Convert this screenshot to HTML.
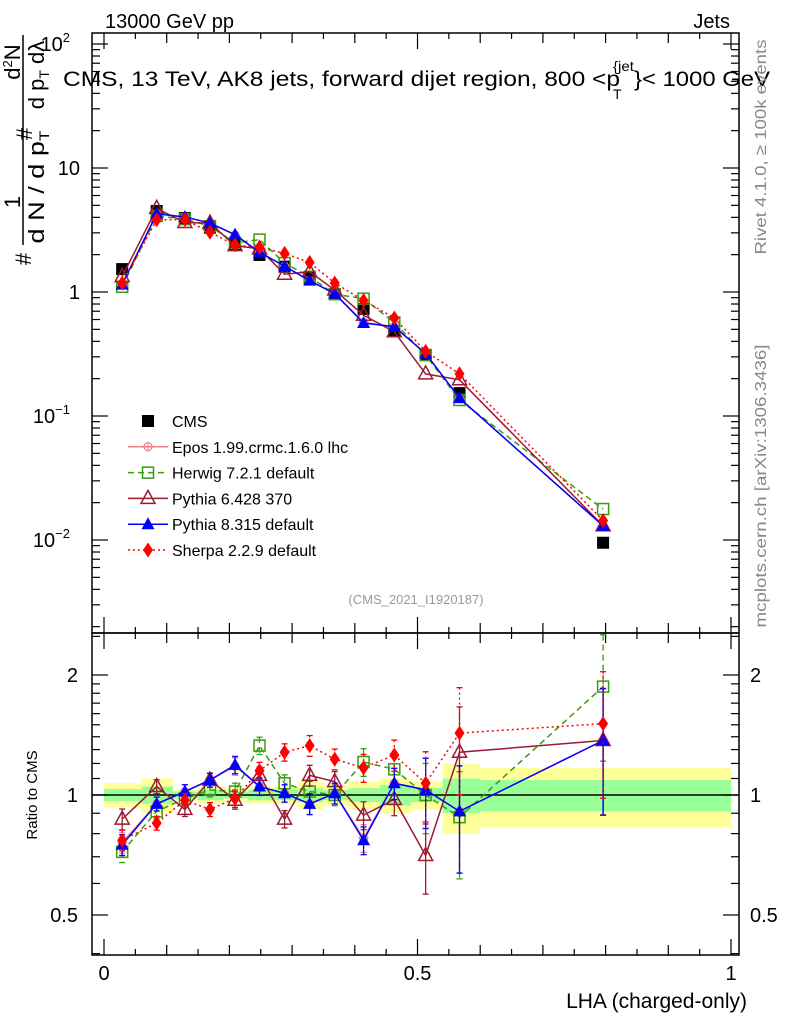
<!DOCTYPE html>
<html><head><meta charset="utf-8"><style>
html,body{margin:0;padding:0;background:#fff;}
svg{display:block;font-family:"Liberation Sans",sans-serif;}
</style></head><body>
<svg id="chart" width="786" height="1024" xmlns="http://www.w3.org/2000/svg">
<g id="bands"></g>
<g id="grid"></g>
<g id="series"></g>
<rect x="92" y="33" width="647" height="600" fill="none" stroke="#000" stroke-width="1.5"/>
<rect x="92" y="633" width="647" height="322" fill="none" stroke="#000" stroke-width="1.5"/>
<text x="105" y="28" font-size="20">13000 GeV pp</text>
<text x="730" y="28" font-size="20" text-anchor="end">Jets</text>
<g>
<text x="63" y="86" font-size="21" textLength="557" lengthAdjust="spacingAndGlyphs">CMS, 13 TeV, AK8 jets, forward dijet region, 800 &lt;p</text>
<text x="613" y="71" font-size="14" textLength="21" lengthAdjust="spacingAndGlyphs">{jet</text>
<text x="613" y="99" font-size="14">T</text>
<text x="634" y="86" font-size="21" textLength="136" lengthAdjust="spacingAndGlyphs">}&lt; 1000 GeV</text>
</g>
<g font-size="22">
<line x1="23" y1="35" x2="23" y2="245" stroke="#000" stroke-width="1.5"/>
<text transform="translate(31,259) rotate(-90)" text-anchor="middle">#</text>
<text transform="translate(20,202) rotate(-90)" text-anchor="middle">1</text>
<text transform="translate(44,187) rotate(-90)" text-anchor="middle" textLength="113" lengthAdjust="spacingAndGlyphs">d N / d p<tspan font-size="14" dy="5">T</tspan></text>
<text transform="translate(32,134) rotate(-90)" text-anchor="middle">#</text>
<text transform="translate(20,62) rotate(-90)" text-anchor="middle">d<tspan font-size="13" dy="-8">2</tspan><tspan dy="8">N</tspan></text>
<text transform="translate(44,75) rotate(-90)" text-anchor="middle">d p<tspan font-size="14" dy="5">T</tspan><tspan dy="-5"> dλ</tspan></text>
</g>
<text transform="translate(37,795) rotate(-90)" font-size="15" text-anchor="middle">Ratio to CMS</text>
<text x="747" y="1008" font-size="21" text-anchor="end">LHA (charged-only)</text>
<text x="416" y="604" font-size="13" fill="#999" text-anchor="middle">(CMS_2021_I1920187)</text>
<text transform="translate(766,147) rotate(-90)" font-size="16" fill="#888" text-anchor="middle" textLength="215" lengthAdjust="spacingAndGlyphs">Rivet 4.1.0, ≥ 100k events</text>
<text transform="translate(766,486) rotate(-90)" font-size="16" fill="#888" text-anchor="middle" textLength="283" lengthAdjust="spacingAndGlyphs">mcplots.cern.ch [arXiv:1306.3436]</text>
<g id="legend"></g>
</svg>
<script>
const binEdges=[0,0.06,0.11,0.15,0.19,0.23,0.27,0.31,0.35,0.39,0.44,0.49,0.54,0.60,1.0];
const xCenters=[0.029,0.084,0.129,0.169,0.209,0.248,0.288,0.328,0.368,0.414,0.463,0.513,0.567,0.796];
const cmsValues=[1.53,4.5,3.95,3.3,2.44,1.99,1.6,1.3,0.96,0.73,0.49,0.31,0.153,0.0095];
const yellowHalf=[0.07,0.1,0.03,0.05,0.04,0.05,0.05,0.08,0.06,0.08,0.1,0.08,0.2,0.17];
const greenHalf=[0.035,0.05,0.02,0.03,0.02,0.03,0.03,0.04,0.03,0.04,0.06,0.04,0.1,0.09];
const eposRatio=[0.76,0.95,1.02,1.09,1.18,1.05,1.01,0.95,1.01,0.78,1.07,1.03,0.91,1.37];
const herwigRatio=[0.72,0.91,0.98,1.03,1.02,1.33,1.07,1.02,1.0,1.21,1.16,1.0,0.88,1.87];
const py6Ratio=[0.87,1.05,0.92,1.09,0.97,1.12,0.87,1.12,1.08,0.89,0.975,0.705,1.28,1.37];
const py8Ratio=[0.75,0.95,1.02,1.09,1.19,1.05,1.01,0.95,1.01,0.77,1.07,1.03,0.91,1.37];
const sherpaRatio=[0.77,0.85,0.97,0.92,0.98,1.15,1.28,1.33,1.23,1.17,1.26,1.07,1.43,1.51];
const relErr=[0.06,0.04,0.04,0.04,0.05,0.05,0.05,0.06,0.06,0.08,0.09,0.2,0.3,0.35];
const mainTickLabels=["10","1"];

const NS="http://www.w3.org/2000/svg";
const X=v=>104+627*v;
const YM=v=>292-124*Math.log10(v);
const YR=r=>795-120*Math.log2(r);
function mk(tag,attrs,parent){const e=document.createElementNS(NS,tag);for(const k in attrs)e.setAttribute(k,attrs[k]);parent.appendChild(e);return e;}
const bands=document.getElementById('bands');
const grid=document.getElementById('grid');
const ser=document.getElementById('series');
const leg=document.getElementById('legend');

for(let i=0;i<cmsValues.length;i++){
  const x0=X(binEdges[i]),x1=X(binEdges[i+1]);
  let r=mk('rect',{x:x0,y:YR(1+yellowHalf[i]),width:x1-x0,height:YR(1-yellowHalf[i])-YR(1+yellowHalf[i]),fill:'#ffff99'},bands);
  
  
  let g=mk('rect',{x:x0,y:YR(1+greenHalf[i]),width:x1-x0,height:YR(1-greenHalf[i])-YR(1+greenHalf[i]),fill:'#99ff99'},bands);
  
  
}
let ul=mk('line',{x1:92,x2:739,y1:YR(1),y2:YR(1),stroke:'#000','stroke-width':1.5},grid);



for(let k=0;k<=20;k++){
  const v=k*0.05,x=X(v),major=(k%2===0),len=(k%10===0)?16:(major?10:6);
  for(const [yb,dir] of [[633,-1],[33,1],[955,-1],[633,1]]){
    mk('line',{x1:x,x2:x,y1:yb,y2:yb+dir*len,stroke:'#000','stroke-width':1.2},grid);
  }
}
[[0,'0'],[0.5,'0.5'],[1,'1']].forEach(([v,t])=>{
  let e=mk('text',{x:X(v),y:980,'font-size':20,'text-anchor':'middle'},grid);e.textContent=t;
  
  
});
for(let d=-3;d<=2;d++){
  for(let m=1;m<=9;m++){
    const v=m*Math.pow(10,d),y=YM(v);if(y<33||y>633)continue;
    const len=m===1?16:8;
    mk('line',{x1:92,x2:92+len,y1:y,y2:y,stroke:'#000','stroke-width':1.2},grid);
    mk('line',{x1:739,x2:739-len,y1:y,y2:y,stroke:'#000','stroke-width':1.2},grid);
  }
}
function ylab(y,base,exp){
  let e=mk('text',{x:exp?70:80,y:y+7,'font-size':20,'text-anchor':'end'},grid);
  e.textContent=base;
  
  
  if(exp){let s=mk('tspan',{'font-size':13,dy:-9},e);s.textContent=exp;}
}
ylab(YM(100),'10','2');ylab(YM(10),mainTickLabels[0]);ylab(YM(1),mainTickLabels[1]);ylab(YM(0.1),'10','−1');ylab(YM(0.01),'10','−2');
[0.4,0.5,0.6,0.7,0.8,0.9,1,1.1,1.2,1.3,1.4,1.5,1.6,1.7,1.8,1.9,2,2.5].forEach(v=>{
  const y=YR(v);if(y<633||y>955)return;const len=[0.5,1,2].includes(v)?16:8;
  mk('line',{x1:92,x2:92+len,y1:y,y2:y,stroke:'#000','stroke-width':1.2},grid);
  mk('line',{x1:739,x2:739-len,y1:y,y2:y,stroke:'#000','stroke-width':1.2},grid);
});
[[2,'2'],[1,'1'],[0.5,'0.5']].forEach(([v,t])=>{
  let a=mk('text',{x:78,y:YR(v)+7,'font-size':20,'text-anchor':'end'},grid);a.textContent=t;
  
  
  let b=mk('text',{x:750,y:YR(v)+7,'font-size':20},grid);b.textContent=t;
  
  
});

function marker(type,x,y,color,parent){
  if(type==='fsq')return mk('rect',{x:x-6,y:y-6,width:12,height:12,fill:color},parent);
  if(type==='osq')return mk('rect',{x:x-5.5,y:y-5.5,width:11,height:11,fill:'none',stroke:color,'stroke-width':1.5},parent);
  if(type==='otri')return mk('polygon',{points:`${x},${y-8} ${x-7},${y+5} ${x+7},${y+5}`,fill:'none',stroke:color,'stroke-width':1.5},parent);
  if(type==='ftri')return mk('polygon',{points:`${x},${y-7} ${x-6.5},${y+5} ${x+6.5},${y+5}`,fill:color},parent);
  if(type==='dia')return mk('polygon',{points:`${x},${y-7.5} ${x-5},${y} ${x},${y+7.5} ${x+5},${y}`,fill:color},parent);
  if(type==='cross'){const g=mk('g',{},parent);mk('circle',{cx:x,cy:y,r:4,fill:'none',stroke:color,'stroke-width':1.2},g);mk('line',{x1:x-5,x2:x+5,y1:y,y2:y,stroke:color},g);mk('line',{x1:x,x2:x,y1:y-5,y2:y+5,stroke:color},g);return g;}
}
const mcs=[
 {name:'Epos 1.99.crmc.1.6.0 lhc',key:'epos',r:eposRatio,color:'#f08080',mk:'cross',dash:''},
 {name:'Herwig 7.2.1 default',key:'herwig',r:herwigRatio,color:'#3a9a10',mk:'osq',dash:'6,4'},
 {name:'Pythia 6.428 370',key:'pythia6',r:py6Ratio,color:'#9b1b30',mk:'otri',dash:''},
 {name:'Pythia 8.315 default',key:'pythia8',r:py8Ratio,color:'#0000ff',mk:'ftri',dash:''},
 {name:'Sherpa 2.2.9 default',key:'sherpa',r:sherpaRatio,color:'#ff0000',mk:'dia',dash:'2,3'}
];
const cg=mk('g',{},ser);


xCenters.forEach((x,i)=>{
  const m=marker('fsq',X(x),YM(cmsValues[i]),'#000',cg);
  
  
});
mcs.forEach(s=>{
  const g=mk('g',{},ser);
  
  
  const mainPts=xCenters.map((x,i)=>[X(x),YM(cmsValues[i]*s.r[i])]);
  const ratPts=xCenters.map((x,i)=>[X(x),YR(s.r[i])]);
  mk('polyline',{points:mainPts.map(p=>p.join(',')).join(' '),fill:'none',stroke:s.color,'stroke-width':1.5,'stroke-dasharray':s.dash},g);
  mk('polyline',{points:ratPts.map(p=>p.join(',')).join(' '),fill:'none',stroke:s.color,'stroke-width':1.5,'stroke-dasharray':s.dash},g);
  xCenters.forEach((x,i)=>{
    const r=s.r[i],e=relErr[i];
    const y1=YR(r*(1+e)),y2=YR(Math.max(r*(1-e),0.3));
    mk('line',{x1:X(x),x2:X(x),y1:y1,y2:y2,stroke:s.color,'stroke-width':1.3,'stroke-dasharray':s.dash},g);
    mk('line',{x1:X(x)-3,x2:X(x)+3,y1:y1,y2:y1,stroke:s.color,'stroke-width':1.3},g);
    mk('line',{x1:X(x)-3,x2:X(x)+3,y1:y2,y2:y2,stroke:s.color,'stroke-width':1.3},g);
    const m1=marker(s.mk,mainPts[i][0],mainPts[i][1],s.color,g);
    
    
    const m2=marker(s.mk,ratPts[i][0],ratPts[i][1],s.color,g);
    
    
  });
});

const legItems=[{name:'CMS',color:'#000',mk:'fsq',dash:'',line:false}].concat(mcs.map(s=>Object.assign({line:true},s)));
legItems.forEach((s,i)=>{
  const y=421+i*25.8;
  const g=mk('g',{},leg);
  
  
  if(s.line)mk('line',{x1:128,x2:168,y1:y,y2:y,stroke:s.color,'stroke-width':1.5,'stroke-dasharray':s.dash},g);
  marker(s.mk,148,y,s.color,g);
  const t=mk('text',{x:172,y:y+6,'font-size':16},g);t.textContent=s.name;
});
</script>
</body></html>
